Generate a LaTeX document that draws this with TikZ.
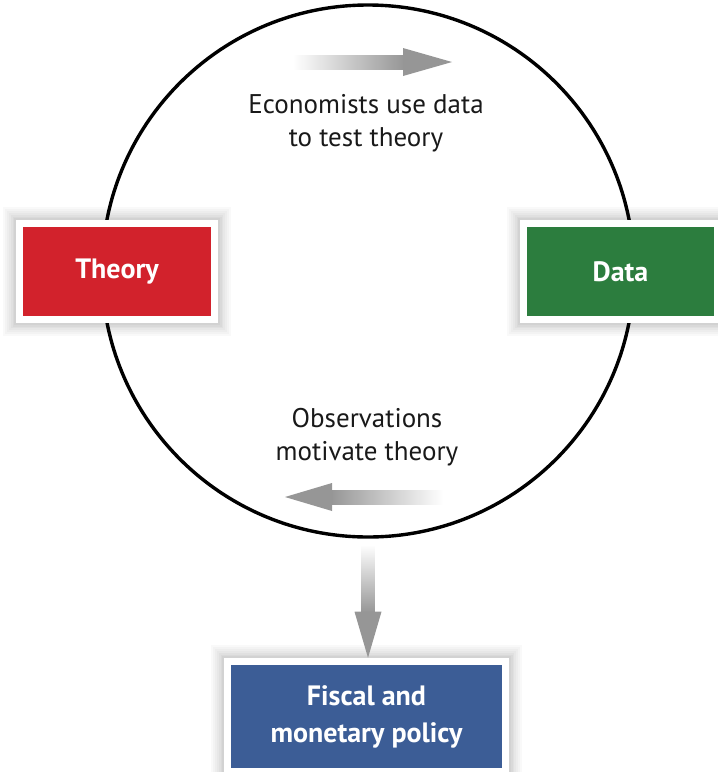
\documentclass[tikz,border=0pt]{standalone}
\usepackage{fontspec}
\setmainfont{PT Sans}
\usepackage[usenames,dvipsnames]{xcolor}
\usetikzlibrary{calc}
\definecolor{theoryred}{RGB}{210,34,44}
\definecolor{datagreen}{RGB}{44,125,62}
\definecolor{policyblue}{RGB}{60,93,150}
\definecolor{arrowgray}{RGB}{150,150,150}

\begin{document}
\begin{tikzpicture}[x=1pt, y=-1pt,
  glow/.style={preaction={draw=black, opacity=.025, line width=40pt},
               preaction={draw=black, opacity=.025, line width=36pt},
               preaction={draw=black, opacity=.025, line width=32pt},
               preaction={draw=black, opacity=.025, line width=28pt},
               preaction={draw=black, opacity=.03, line width=24pt},
               preaction={draw=black, opacity=.03, line width=21pt},
               preaction={draw=black, opacity=.03, line width=18pt}},
  box/.style={glow, preaction={draw=white, line width=14pt},
              rectangle, inner sep=0pt, text=white, align=center,
              font=\fontsize{28}{37}\selectfont\bfseries},
  caption/.style={align=center, text=black!90, font=\fontsize{27}{32.5}\selectfont}]
  \useasboundingbox (0,0) rectangle (718,772);
  \node [circle, draw, line width=3.4pt, minimum size=532pt, inner sep=0pt] (C) at (368, 271) {};
  \node [box, fill=theoryred, minimum width=188pt, minimum height=89pt] (T) at (117, 271.5) {Theory};
  \node [box, fill=datagreen, minimum width=187pt, minimum height=89pt] (D) at (620.5, 271.5) {Data};
  \node [box, fill=policyblue, minimum width=271pt, minimum height=103pt] (P) at (366.5, 716.5) {Fiscal and\\monetary policy};
  \node [caption] (Up) at (366, 123) {Economists use data\\to test theory};
  \node [caption] (Lo) at (367, 437) {Observations\\motivate theory};
  % upper arrow, towards data
  \shade [left color=white, right color=arrowgray] (293, 55) rectangle (404, 69);
  \fill [arrowgray] (403, 48) -- (452, 62) -- (403, 76) -- cycle;
  % lower arrow, back to theory
  \shade [left color=arrowgray, right color=white] (331, 490) rectangle (443, 504);
  \fill [arrowgray] (332, 483) -- (285, 497) -- (332, 511) -- cycle;
  % down to policy
  \coordinate (tip) at ($(C.south |- P.north)+(0,-7)$);
  \shade [top color=white, bottom color=arrowgray] ($(C.south)+(-6.5,6)$) rectangle ($(C.south)+(6.5,74)$);
  \fill [arrowgray] ($(C.south)+(-13.5,73)$) -- (tip) -- ($(C.south)+(13.5,73)$) -- cycle;
\end{tikzpicture}
\end{document}
